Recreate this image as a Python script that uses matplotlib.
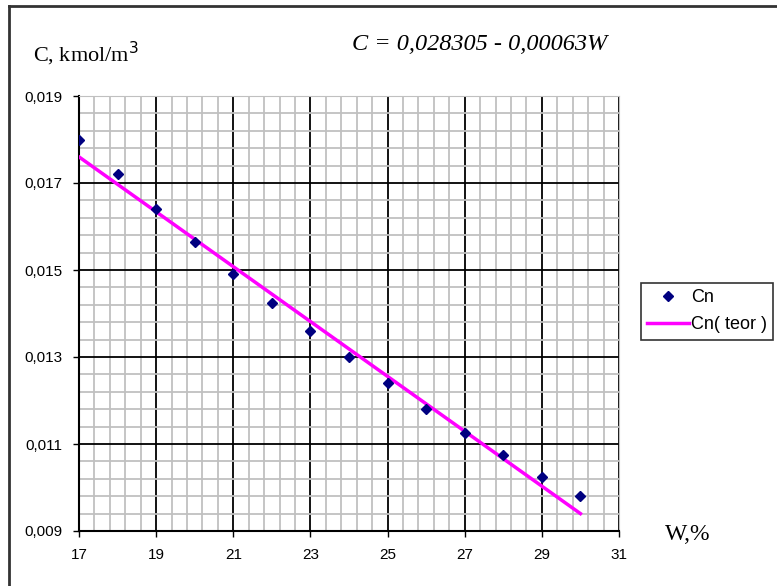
import matplotlib
matplotlib.use("Agg")
import matplotlib.pyplot as plt
import numpy as np
from matplotlib.ticker import FixedLocator
from matplotlib.lines import Line2D

W = [17, 18, 19, 20, 21, 22, 23, 24, 25, 26, 27, 28, 29, 30]
Cn = [0.0180, 0.0172, 0.0164, 0.01565, 0.0149, 0.01425, 0.0136, 0.0130,
      0.0124, 0.0118, 0.01125, 0.01075, 0.01025, 0.0098]
W_teor = [17, 30]
Cn_teor = [0.01760, 0.00940]
xticks = [17, 19, 21, 23, 25, 27, 29, 31]
yticks = [0.009, 0.011, 0.013, 0.015, 0.017, 0.019]
ytick_labels = ["0,009", "0,011", "0,013", "0,015", "0,017", "0,019"]

fig = plt.figure(figsize=(7.77, 5.86), dpi=100)
ax = fig.add_axes([79/777, 1-531/586, (619-79)/777, (531-96)/586])

ax.set_xlim(17, 31)
ax.set_ylim(0.009, 0.019)
ax.xaxis.set_major_locator(FixedLocator(xticks))
ax.yaxis.set_major_locator(FixedLocator(yticks))
ax.xaxis.set_minor_locator(FixedLocator(np.linspace(17, 31, 36)))
ax.yaxis.set_minor_locator(FixedLocator(np.linspace(0.009, 0.019, 26)))
ax.set_xticklabels([str(t) for t in xticks])
ax.set_yticklabels(ytick_labels)
ax.set_axisbelow(True)

ax.grid(which="minor", color="#c0c0c0", linewidth=1.3, zorder=0)
ax.grid(which="major", color="black", linewidth=1.3, zorder=1)
ax.tick_params(which="minor", length=0)
ax.tick_params(which="major", length=4, width=1, direction="out",
               pad=8)
for lab in ax.get_xticklabels() + ax.get_yticklabels():
    lab.set_fontfamily("Liberation Sans")
    lab.set_fontsize(11)
for s in ["top", "right"]:
    ax.spines[s].set_color("#c0c0c0")
for s in ["left", "bottom"]:
    ax.spines[s].set_color("black")
    ax.spines[s].set_linewidth(1.5)

ax.plot(W_teor, Cn_teor, color="#ff00ff", linewidth=2.5, zorder=3)
ax.plot(W, Cn, linestyle="none", marker="D", markersize=5.5,
        color="#000080", zorder=4)

fig.text(33/777, 1-62/586, "C, kmol/m$^3$", fontfamily="Liberation Serif",
         fontsize=16, va="baseline")
fig.text(352/777, 1-45/586, "C = 0,028305 - 0,00063W",
         fontfamily="Liberation Serif", style="italic", fontsize=17.5,
         va="center", ha="left")
fig.text(665/777, 1-535/586, "W,%", fontfamily="Liberation Serif",
         fontsize=17, va="center", ha="left")

handles = [Line2D([], [], linestyle="none", marker="D", markersize=5,
                  color="#000080"),
           Line2D([], [], color="#ff00ff", linewidth=2.5)]
leg = fig.legend(handles, ["Cn", "Cn( teor )"], loc="upper left",
                 bbox_to_anchor=(641/777, 1-283/586), frameon=True,
                 fancybox=False, edgecolor="black", handlelength=2.3,
                 handletextpad=0.1, borderpad=0.35, labelspacing=0.55,
                 borderaxespad=0,
                 prop={"family": "Liberation Sans", "size": 13})
leg.get_frame().set_linewidth(1.2)

# outer frame lines (top and left)
fig.add_artist(Line2D([9/777, 1], [1-6/586, 1-6/586], color="#333333",
                      linewidth=2, transform=fig.transFigure))
fig.add_artist(Line2D([9/777, 9/777], [0, 1-6/586], color="#333333",
                      linewidth=2, transform=fig.transFigure))

fig.savefig("out.png", dpi=100)
